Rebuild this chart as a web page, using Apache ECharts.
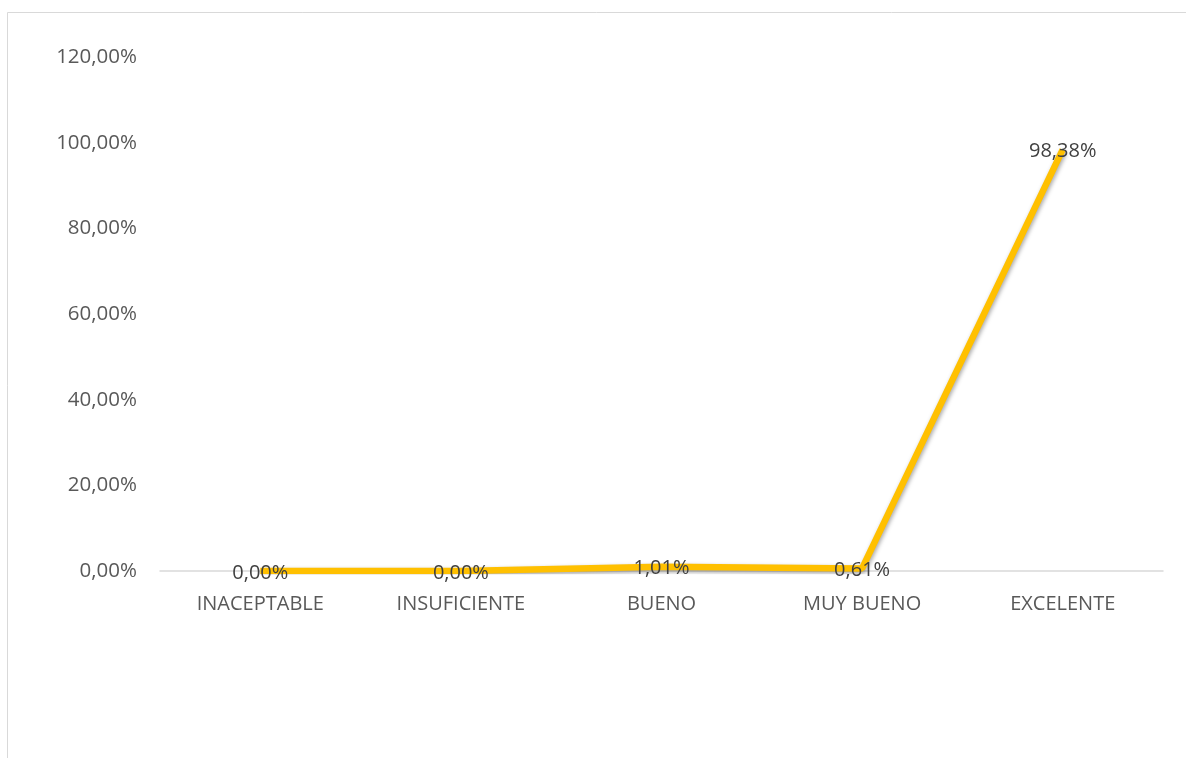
<!DOCTYPE html>
<html>
<head>
<meta charset="utf-8">
<script src="https://cdn.jsdelivr.net/npm/echarts@6/dist/echarts.min.js"></script>
<style>
html,body{margin:0;padding:0;background:#fff;}
#chart{width:1186px;height:758px;}
</style>
</head>
<body>
<div id="chart"></div>
<script>
const categories = ['INACEPTABLE', 'INSUFICIENTE', 'BUENO', 'MUY BUENO', 'EXCELENTE'];
const values = [0, 0, 1.01, 0.61, 98.38];
const yTicks = [0, 20, 40, 60, 80, 100, 120];

function pct(v) { return v.toFixed(2).replace('.', ',') + '%'; }

const chart = echarts.init(document.getElementById('chart'));
chart.setOption({
  backgroundColor: '#fff',
  animation: false,
  textStyle: { fontFamily: 'Open Sans, Lato, sans-serif' },
  graphic: [{
    type: 'polyline',
    shape: { points: [[7.5, 758], [7.5, 12.5], [1186, 12.5]] },
    style: { stroke: '#d9d9d9', lineWidth: 1, fill: null }
  }],
  grid: { left: 160, right: 23, top: 57, bottom: 187 },
  xAxis: {
    type: 'category',
    data: categories,
    boundaryGap: true,
    axisLine: { lineStyle: { color: '#d9d9d9', width: 1.5 } },
    axisTick: { show: false },
    axisLabel: { color: '#595959', fontSize: 20, margin: 23, interval: 0 }
  },
  yAxis: {
    type: 'value',
    min: yTicks[0],
    max: yTicks[yTicks.length - 1],
    interval: 20,
    axisLine: { show: false },
    axisTick: { show: false },
    splitLine: { show: false },
    axisLabel: { color: '#595959', fontSize: 20.5, margin: 23, formatter: v => pct(v) }
  },
  series: [{
    type: 'line',
    data: values,
    symbol: 'circle',
    symbolSize: 1,
    itemStyle: { color: 'rgba(0,0,0,0)' },
    lineStyle: {
      color: '#FFC000', width: 6.5,
      shadowColor: 'rgba(0,0,0,0.35)', shadowBlur: 4, shadowOffsetX: 1, shadowOffsetY: 2
    },
    label: {
      show: true,
      position: 'inside',
      color: '#404040',
      fontSize: 20,
      offset: [0, 2],
      formatter: p => pct(p.value)
    }
  }]
});
</script>
</body>
</html>
